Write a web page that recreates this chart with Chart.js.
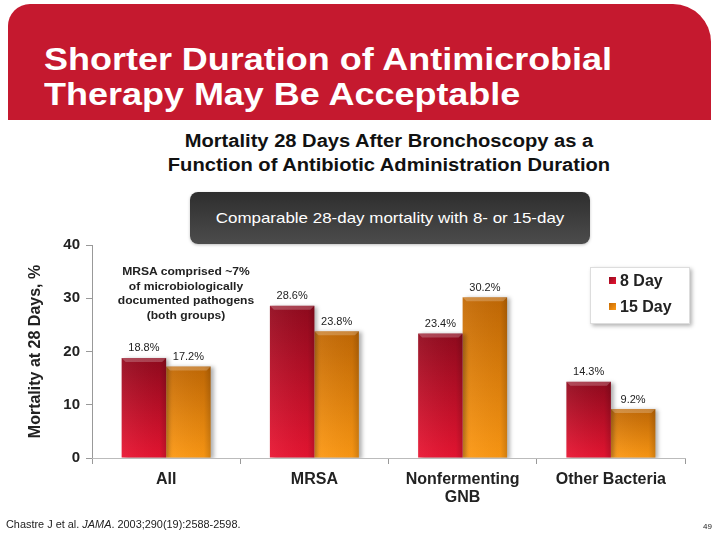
<!DOCTYPE html>
<html>
<head>
<meta charset="utf-8">
<script src="https://cdn.jsdelivr.net/npm/chart.js@4.4.1/dist/chart.umd.min.js"></script>
<style>
  body { margin: 0; width: 720px; height: 540px; position: relative; background: #fff; overflow: hidden;
         font-family: Arial, "Liberation Sans", sans-serif; }
  #header { position: absolute; left: 8px; top: 4px; width: 703px; height: 116px; background: #c5192f;
            border-radius: 22px 38px 0 0; }
  #header h1 { position: absolute; left: 36px; top: 38px; margin: 0; color: #fff; font-size: 31px;
               line-height: 35px; font-weight: bold; transform: scaleX(1.16); transform-origin: left top;
               white-space: nowrap; }
  #subtitle { position: absolute; left: 0; width: 778px; top: 129px; text-align: center; font-weight: bold;
              font-size: 17.5px; line-height: 24px; color: #111; transform: scaleX(1.15); }
  #callout { position: absolute; left: 190px; top: 192px; width: 400px; height: 52px; border-radius: 8px;
             background: linear-gradient(#2e2e2e, #4c4c4c); box-shadow: 0 1px 3px rgba(0,0,0,0.25); }
  #callout div { color: #fff; font-size: 15px; text-align: center; line-height: 52px; transform: scaleX(1.13); }
  #note { position: absolute; left: 106px; width: 160px; top: 264px; text-align: center; font-size: 11px;
          font-weight: bold; line-height: 14.5px; color: #222; transform: scaleX(1.1); }
  #legend { position: absolute; left: 590px; top: 267px; width: 98px; height: 55px; background: #fff;
            border: 1px solid #ddd; box-shadow: 2px 2px 4px rgba(0,0,0,0.3); }
  .item { position: absolute; left: 18px; font-weight: bold; font-size: 16px; color: #222; white-space: nowrap; }
  .item span { display: inline-block; width: 7px; height: 7px; margin-right: 4px; vertical-align: 2px; }
  #cite { position: absolute; left: 6px; top: 519px; font-size: 10px; color: #222; transform: scaleX(1.09);
          transform-origin: left top; white-space: nowrap; }
  #page { position: absolute; left: 703px; top: 522px; font-size: 8px; color: #222; }
  canvas { position: absolute; left: 0; top: 0; }
</style>
</head>
<body>
<div id="header"><h1>Shorter Duration of Antimicrobial<br>Therapy May Be Acceptable</h1></div>
<div id="subtitle">Mortality 28 Days After Bronchoscopy as a<br>Function of Antibiotic Administration Duration</div>
<div id="callout"><div>Comparable 28-day mortality with 8- or 15-day</div></div>
<canvas id="myChart" width="720" height="540"></canvas>
<div id="note">MRSA comprised ~7%<br>of microbiologically<br>documented pathogens<br>(both groups)</div>
<div id="legend"></div>
<div id="cite">Chastre J et al. <i>JAMA</i>. 2003;290(19):2588-2598.</div>
<div id="page">49</div>
<script>
const categories = ['All', 'MRSA', ['Nonfermenting', 'GNB'], 'Other Bacteria'];
const seriesNames = ['8 Day', '15 Day'];
const eightDay = [18.8, 28.6, 23.4, 14.3];
const fifteenDay = [17.2, 23.8, 30.2, 9.2];
const yTicks = [0, 10, 20, 30, 40];

const redStops = ['#930a1e', '#ea1532'];
const orangeStops = ['#c46a05', '#ff9a14'];
const fontFamily = 'Arial, "Liberation Sans", sans-serif';

function barFill(stops) {
    return function (context) {
        const chart = context.chart;
        if (!chart.chartArea || !context.parsed) return stops[1];
        const yTop = chart.scales.y.getPixelForValue(context.parsed.y);
        const yBase = chart.scales.y.getPixelForValue(0);
        const g = chart.ctx.createLinearGradient(0, yTop, 0, yBase);
        g.addColorStop(0, stops[0]);
        g.addColorStop(1, stops[1]);
        return g;
    };
}

// legend box built from the series names
const legendEl = document.getElementById('legend');
[redStops, orangeStops].forEach((stops, i) => {
    const d = document.createElement('div');
    d.className = 'item';
    d.style.top = (i === 0 ? 4 : 30) + 'px';
    d.innerHTML = '<span style="background:linear-gradient(135deg,' + stops[0] + ',' + stops[1] + ')"></span>' + seriesNames[i];
    legendEl.appendChild(d);
});

const barShadow = {
    id: 'barShadow',
    beforeDatasetsDraw(chart) {
        const ctx = chart.ctx;
        ctx.save();
        ctx.shadowColor = 'rgba(0,0,0,0.3)';
        ctx.shadowBlur = 4;
        ctx.shadowOffsetX = 3;
        ctx.shadowOffsetY = 1;
    },
    afterDatasetsDraw(chart) {
        const ctx = chart.ctx;
        ctx.restore();
        // bevel + value labels
        chart.data.datasets.forEach((ds, di) => {
            const meta = chart.getDatasetMeta(di);
            meta.data.forEach((bar, i) => {
                const left = bar.x - bar.width / 2, right = bar.x + bar.width / 2;
                const top = bar.y, base = bar.base;
                ctx.save();
                const h = ctx.createLinearGradient(left, 0, right, 0);
                h.addColorStop(0, 'rgba(255,255,255,0.06)');
                h.addColorStop(0.85, 'rgba(0,0,0,0.04)');
                h.addColorStop(1, 'rgba(0,0,0,0.18)');
                ctx.fillStyle = h;
                ctx.fillRect(left, top, bar.width, base - top);
                ctx.fillStyle = 'rgba(255,255,255,0.22)';
                ctx.beginPath();
                ctx.moveTo(left, top);
                ctx.lineTo(right, top);
                ctx.lineTo(right - 4, top + 4);
                ctx.lineTo(left + 4, top + 4);
                ctx.closePath();
                ctx.fill();
                ctx.fillStyle = '#222';
                ctx.font = '11px ' + fontFamily;
                ctx.textAlign = 'center';
                ctx.textBaseline = 'bottom';
                ctx.fillText(ds.data[i].toFixed(1) + '%', bar.x, top - 4);
                ctx.restore();
            });
        });
    }
};

const ctx = document.getElementById('myChart').getContext('2d');
const chart = new Chart(ctx, {
    type: 'bar',
    data: {
        labels: categories,
        datasets: [{
            label: seriesNames[0],
            data: eightDay,
            backgroundColor: barFill(redStops),
            borderWidth: 0
        }, {
            label: seriesNames[1],
            data: fifteenDay,
            backgroundColor: barFill(orangeStops),
            borderWidth: 0
        }]
    },
    plugins: [barShadow],
    options: {
        responsive: false,
        animation: false,
        events: [],
        datasets: { bar: { categoryPercentage: 0.6, barPercentage: 1.0 } },
        layout: { padding: { left: 26, top: 245, right: 35, bottom: 30 } },
        plugins: { legend: { display: false }, tooltip: { enabled: false } },
        scales: {
            y: {
                min: 0,
                max: 40,
                afterBuildTicks: (scale) => { scale.ticks = yTicks.map(v => ({ value: v })); },
                afterFit: (scale) => { scale.width = 66; },
                border: { color: '#999', width: 1 },
                grid: { drawOnChartArea: false, tickLength: 6, color: '#999' },
                ticks: { color: '#222', padding: 6, font: { size: 15, weight: 'bold', family: fontFamily } },
                title: {
                    display: true,
                    text: 'Mortality at 28 Days, %',
                    color: '#222',
                    padding: { top: 0, bottom: 0 },
                    font: { size: 16, weight: 'bold', family: fontFamily }
                }
            },
            x: {
                afterFit: (scale) => { scale.height = 52; },
                border: { color: '#bbb', width: 1 },
                grid: { drawOnChartArea: false, tickLength: 6, color: '#999' },
                ticks: { color: '#222', padding: 6, font: { size: 16, weight: 'bold', family: fontFamily, lineHeight: 1.15 } }
            }
        }
    }
});
</script>
</body>
</html>
